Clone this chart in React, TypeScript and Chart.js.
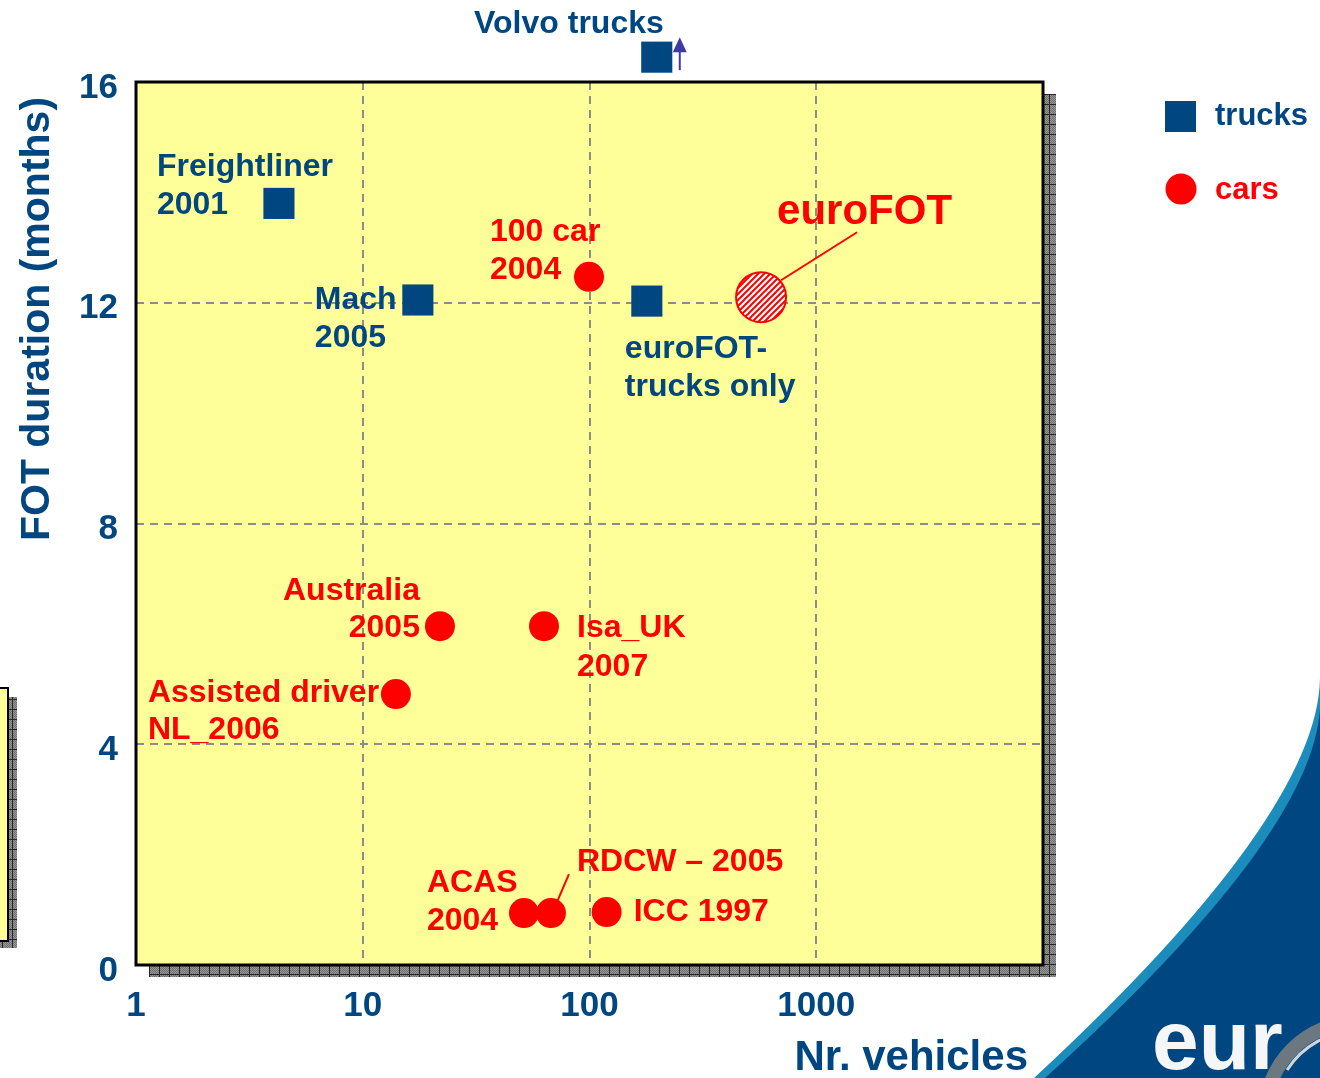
import React, { useEffect, useRef } from "react";
import { Chart, registerables } from "chart.js";

Chart.register(...registerables);

const NAVY = "#004680";
const RED = "#ff0000";
const FONT = "'Liberation Sans', Arial, Helvetica, sans-serif";

// ---- data ----
const xTicks = [1, 10, 100, 1000, 10000];
const xTickLabels = ["1", "10", "100", "1000", ""];
const yTicks = [0, 4, 8, 12, 16];

const truckNames = [["Freightliner", "2001"], ["Mach", "2005"], ["euroFOT-", "trucks only"], ["Volvo trucks"]];
const truckVehicles = [4.27, 17.5, 179, 198];
const truckMonths = [13.8, 12.05, 12.03, 16.45];

const carNames = [
  ["100 car", "2004"],
  ["Australia", "2005"],
  ["Isa_UK", "2007"],
  ["Assisted driver", "NL_2006"],
  ["ACAS", "2004"],
  ["RDCW \u2013 2005"],
  ["ICC 1997"],
];
const carVehicles = [99.5, 21.9, 63, 14.0, 51.4, 67.6, 119];
const carMonths = [12.47, 6.14, 6.14, 4.91, 0.94, 0.94, 0.96];

const eurofotNames = [["euroFOT"]];
const eurofotVehicles = [571];
const eurofotMonths = [12.1];

const legendItems = ["trucks", "cars"];

// ---- label layout (style, relative to the point's pixel) ----
type Lay = { dx: number; dy: number[]; align: CanvasTextAlign; leader?: number[]; size?: number };
const truckLayout: Lay[] = [
  { dx: -122, dy: [-36, 2], align: "left" },
  { dx: -103, dy: [0, 38], align: "left" },
  { dx: -22, dy: [48, 86], align: "left" },
  { dx: 7, dy: [-33], align: "right" },
];
const carLayout: Lay[] = [
  { dx: -99, dy: [-45, -7], align: "left" },
  { dx: -20, dy: [-35, 2], align: "right" },
  { dx: 33, dy: [2, 41], align: "left" },
  { dx: -248, dy: [-1, 36], align: "left" },
  { dx: -97, dy: [-30, 8], align: "left" },
  { dx: 26, dy: [-51], align: "left", leader: [18, -39, 6, -11] },
  { dx: 27, dy: [0], align: "left" },
];
const eurofotLayout: Lay[] = [{ dx: 16, dy: [-85], align: "left", leader: [96, -65, 20, -17], size: 42 }];

function makeHatch(): CanvasPattern | string {
  const c = document.createElement("canvas");
  c.width = 6;
  c.height = 6;
  const g = c.getContext("2d");
  if (!g) return RED;
  g.fillStyle = "#ffffff";
  g.fillRect(0, 0, 6, 6);
  g.strokeStyle = RED;
  g.lineWidth = 2;
  g.beginPath();
  g.moveTo(-1, 7);
  g.lineTo(7, -1);
  g.moveTo(-4, 4);
  g.lineTo(4, -4);
  g.moveTo(2, 10);
  g.lineTo(10, 2);
  g.stroke();
  return g.createPattern(c, "repeat") || RED;
}

function makeDither(): CanvasPattern | string {
  const c = document.createElement("canvas");
  c.width = 2;
  c.height = 2;
  const g = c.getContext("2d");
  if (!g) return "#888";
  g.fillStyle = "#969696";
  g.fillRect(0, 0, 2, 2);
  g.fillStyle = "#707070";
  g.fillRect(0, 0, 1, 1);
  g.fillRect(1, 1, 1, 1);
  return g.createPattern(c, "repeat") || "#888";
}

function drawShadow(ctx: CanvasRenderingContext2D, x: number, y: number, w: number, h: number, ox: number, oy: number) {
  ctx.save();
  ctx.fillStyle = makeDither();
  ctx.fillRect(x, y, w, h);
  ctx.beginPath();
  ctx.rect(x, y, w, h);
  ctx.clip();
  ctx.strokeStyle = "#262626";
  ctx.lineWidth = 1;
  ctx.beginPath();
  for (let xx = ox; xx < x + w; xx += 10) {
    ctx.moveTo(xx + 0.5, y);
    ctx.lineTo(xx + 0.5, y + h);
  }
  for (let yy = oy; yy < y + h; yy += 10) {
    ctx.moveTo(x, yy + 0.5);
    ctx.lineTo(x + w, yy + 0.5);
  }
  ctx.stroke();
  ctx.restore();
}

const decorPlugin = {
  id: "decor",
  beforeDraw(chart: any) {
    const ctx: CanvasRenderingContext2D = chart.ctx;
    const a = chart.chartArea;
    ctx.save();
    // partial box at left edge
    drawShadow(ctx, 0, 697, 17, 251, 2, 699);
    ctx.fillStyle = "#ffff99";
    ctx.fillRect(-5, 688, 13, 253);
    ctx.strokeStyle = "#000";
    ctx.lineWidth = 2;
    ctx.strokeRect(-5, 688, 13, 253);
    // plot shadow
    drawShadow(ctx, a.left + 13, a.top + 12, a.right - a.left, a.bottom - a.top, a.left + 13, a.top + 12);
    ctx.fillStyle = "#ffff99";
    ctx.fillRect(a.left, a.top, a.right - a.left, a.bottom - a.top);
    ctx.restore();
  },
  afterDatasetsDraw(chart: any) {
    // the Volvo point lies above the scale's top; draw that element without the area check
    const el = chart.getDatasetMeta(0).data[3];
    if (el) el.draw(chart.ctx, { left: 0, top: 0, right: chart.width, bottom: chart.height });
  },
  afterDraw(chart: any) {
    const ctx: CanvasRenderingContext2D = chart.ctx;
    const a = chart.chartArea;
    ctx.save();
    // plot border
    ctx.strokeStyle = "#000";
    ctx.lineWidth = 3;
    ctx.strokeRect(a.left, a.top, a.right - a.left, a.bottom - a.top);

    // point labels
    const groups: [number, string[][], Lay[], string][] = [
      [0, truckNames, truckLayout, NAVY],
      [1, carNames, carLayout, RED],
      [2, eurofotNames, eurofotLayout, RED],
    ];
    ctx.textBaseline = "middle";
    groups.forEach(([di, names, lays, color]) => {
      const meta = chart.getDatasetMeta(di);
      meta.data.forEach((pt: any, i: number) => {
        const lay = lays[i];
        const lines = names[i];
        ctx.fillStyle = color;
        ctx.font = `bold ${lay.size || 32}px ${FONT}`;
        ctx.textAlign = lay.align;
        lines.forEach((t, k) => ctx.fillText(t, pt.x + lay.dx, pt.y + lay.dy[k]));
        if (lay.leader) {
          ctx.strokeStyle = color;
          ctx.lineWidth = 2;
          ctx.beginPath();
          ctx.moveTo(pt.x + lay.leader[0], pt.y + lay.leader[1]);
          ctx.lineTo(pt.x + lay.leader[2], pt.y + lay.leader[3]);
          ctx.stroke();
        }
      });
    });

    // arrow next to the off-scale Volvo point
    const vm = chart.getDatasetMeta(0).data[3];
    if (vm) {
      const ax = vm.x + 23;
      ctx.strokeStyle = "#3b3ba0";
      ctx.fillStyle = "#3b3ba0";
      ctx.lineWidth = 2;
      ctx.beginPath();
      ctx.moveTo(ax, vm.y + 13);
      ctx.lineTo(ax, vm.y - 6);
      ctx.stroke();
      ctx.beginPath();
      ctx.moveTo(ax - 7, vm.y - 5);
      ctx.lineTo(ax + 7, vm.y - 5);
      ctx.lineTo(ax, vm.y - 20);
      ctx.closePath();
      ctx.fill();
    }

    // axis titles
    ctx.fillStyle = NAVY;
    ctx.font = `bold 41px ${FONT}`;
    ctx.textAlign = "center";
    ctx.textBaseline = "middle";
    ctx.save();
    ctx.translate(38, 319);
    ctx.rotate(-Math.PI / 2);
    ctx.fillText("FOT duration (months)", 0, 0);
    ctx.restore();
    ctx.font = `bold 42px ${FONT}`;
    ctx.textAlign = "right";
    ctx.fillText("Nr. vehicles", 1028, 1058);

    // legend
    ctx.fillStyle = NAVY;
    ctx.fillRect(1165, 101, 31, 31);
    ctx.fillStyle = RED;
    ctx.beginPath();
    ctx.arc(1181, 189, 15.5, 0, Math.PI * 2);
    ctx.fill();
    ctx.font = `bold 31px ${FONT}`;
    ctx.textAlign = "left";
    ctx.fillStyle = NAVY;
    ctx.fillText(legendItems[0], 1215, 116);
    ctx.fillStyle = RED;
    ctx.fillText(legendItems[1], 1215, 190);

    // logo corner
    ctx.fillStyle = "#1b8cbc";
    ctx.beginPath();
    ctx.moveTo(1034, 1078);
    ctx.quadraticCurveTo(1318, 815, 1320, 678);
    ctx.lineTo(1320, 1078);
    ctx.closePath();
    ctx.fill();
    ctx.fillStyle = "#004680";
    ctx.beginPath();
    ctx.moveTo(1045, 1078);
    ctx.quadraticCurveTo(1328, 822, 1320, 694);
    ctx.lineTo(1320, 1078);
    ctx.closePath();
    ctx.fill();
    ctx.fillStyle = "#f4f6f8";
    ctx.font = `bold 84px ${FONT}`;
    ctx.textBaseline = "alphabetic";
    ctx.fillText("eur", 1152, 1069);
    ctx.strokeStyle = "#6b7880";
    ctx.lineWidth = 14;
    ctx.beginPath();
    ctx.arc(1358, 1115, 93, Math.PI * 1.0, Math.PI * 1.6);
    ctx.stroke();
    ctx.strokeStyle = "#cfd6da";
    ctx.lineWidth = 3;
    ctx.beginPath();
    ctx.arc(1358, 1115, 84, Math.PI * 1.18, Math.PI * 1.5);
    ctx.stroke();
    ctx.restore();
  },
};

export default function App() {
  const ref = useRef<HTMLCanvasElement | null>(null);
  useEffect(() => {
    if (!ref.current) return;
    const hatch = makeHatch();
    const gridColor = (edge: number[]) => (c: any) =>
      c.tick && edge.includes(c.tick.value) ? "rgba(0,0,0,0)" : "#8c8c8c";
    const chart = new Chart(ref.current, {
      type: "scatter",
      data: {
        datasets: [
          {
            label: "trucks",
            data: truckVehicles.map((x, i) => ({ x, y: truckMonths[i] })),
            pointStyle: "rect",
            pointRadius: 22,
            backgroundColor: NAVY,
            borderColor: NAVY,
            borderWidth: 0,
            clip: false,
          } as any,
          {
            label: "cars",
            data: carVehicles.map((x, i) => ({ x, y: carMonths[i] })),
            pointStyle: "circle",
            pointRadius: 15,
            backgroundColor: RED,
            borderColor: RED,
            borderWidth: 0,
          },
          {
            label: "euroFOT",
            data: eurofotVehicles.map((x, i) => ({ x, y: eurofotMonths[i] })),
            pointStyle: "circle",
            pointRadius: 25,
            backgroundColor: hatch as any,
            borderColor: RED,
            borderWidth: 2,
          },
        ],
      },
      options: {
        animation: false,
        responsive: false,
        devicePixelRatio: 1,
        layout: { padding: { top: 82, right: 277, left: 0, bottom: 0 } },
        plugins: { legend: { display: false }, tooltip: { enabled: false } },
        scales: {
          x: {
            type: "logarithmic",
            min: 1,
            max: 10000,
            afterBuildTicks: (s: any) => {
              s.ticks = xTicks.map((v) => ({ value: v }));
            },
            afterFit: (s: any) => {
              s.height = 113;
            },
            ticks: {
              autoSkip: false,
              maxRotation: 0,
              padding: 20,
              color: NAVY,
              font: { family: FONT, size: 35, weight: "bold" },
              callback: (v: any) => {
                const i = xTicks.indexOf(Number(v));
                return i >= 0 ? xTickLabels[i] : "";
              },
            },
            grid: {
              color: gridColor([1, 10000]),
              lineWidth: 2,
              drawTicks: false,
              borderDash: [8, 6],
            } as any,
            border: { display: false, dash: [8, 6] },
          },
          y: {
            type: "linear",
            min: 0,
            max: 16,
            afterBuildTicks: (s: any) => {
              s.ticks = yTicks.map((v) => ({ value: v }));
            },
            afterFit: (s: any) => {
              s.width = 136;
            },
            ticks: {
              padding: 18,
              labelOffset: 6,
              color: NAVY,
              font: { family: FONT, size: 35, weight: "bold" },
            },
            grid: {
              color: gridColor([0, 16]),
              lineWidth: 2,
              drawTicks: false,
              borderDash: [8, 6],
            } as any,
            border: { display: false, dash: [8, 6] },
          },
        },
      },
      plugins: [decorPlugin],
    });
    return () => chart.destroy();
  }, []);
  return (
    <div style={{ position: "fixed", left: 0, top: 0, width: 1320, height: 1078, background: "#fff" }}>
      <canvas ref={ref} width={1320} height={1078} style={{ display: "block", width: 1320, height: 1078 }} />
    </div>
  );
}
